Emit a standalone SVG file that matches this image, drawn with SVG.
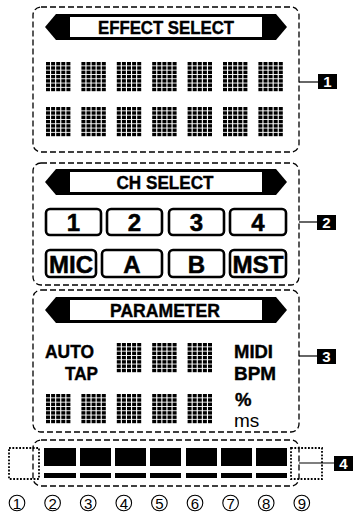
<svg xmlns="http://www.w3.org/2000/svg" xmlns:xlink="http://www.w3.org/1999/xlink" width="360" height="517" viewBox="0 0 360 517">
<style>
.panel{fill:none;stroke:#000;stroke-width:1.3;stroke-dasharray:6 3}
.dot{fill:none;stroke:#000;stroke-width:1.8;stroke-dasharray:1.8 1.6}
.ban{fill:#000}
.banin{fill:#fff}
.bt{font-family:"Liberation Sans",Arial,sans-serif;font-weight:bold;font-size:18.5px;text-anchor:middle;fill:#000;stroke:#000;stroke-width:0.4}
.btn{fill:#fff;stroke:#000;stroke-width:2.6}
.bx{font-family:"Liberation Sans",Arial,sans-serif;font-weight:bold;font-size:24px;text-anchor:middle;fill:#000;stroke:#000;stroke-width:0.5}
.lab{font-family:"Liberation Sans",Arial,sans-serif;font-weight:bold;font-size:18.5px;fill:#000;stroke:#000;stroke-width:0.4}
.lbl{fill:#000}
.lt{font-family:"Liberation Sans",Arial,sans-serif;font-weight:bold;font-size:15px;text-anchor:middle;fill:#fff}
.lead{fill:none;stroke:#000;stroke-width:1.2}
.bar{fill:#000}
.cc{fill:none;stroke:#000;stroke-width:1.1}
.cn{font-family:"Liberation Sans",Arial,sans-serif;font-size:15px;text-anchor:middle;fill:#000}
</style>
<defs>
<g id="r"><rect x="0" width="4" height="3.4"/><rect x="5.1" width="4" height="3.4"/><rect x="10.2" width="4" height="3.4"/><rect x="15.3" width="4" height="3.4"/><rect x="20.4" width="4" height="3.4"/></g>
<g id="ch"><use xlink:href="#r" y="0"/><use xlink:href="#r" y="4.3"/><use xlink:href="#r" y="8.6"/><use xlink:href="#r" y="12.9"/><use xlink:href="#r" y="17.2"/><use xlink:href="#r" y="21.5"/><use xlink:href="#r" y="25.8"/></g>
<circle id="cir" class="cc" r="7.8"/>
</defs>
<rect width="360" height="517" fill="#fff"/>

<g id="panel1">
<rect class="panel" x="33" y="7" width="266" height="145" rx="8"/>
<polygon class="ban" points="45,27 56,14 276,14 287,27 276,40 56,40"/>
<rect class="banin" x="70" y="17" width="192" height="20"/>
<text class="bt" x="166" y="34" textLength="136" lengthAdjust="spacingAndGlyphs">EFFECT SELECT</text>
<use xlink:href="#ch" x="46" y="62"/><use xlink:href="#ch" x="81.4" y="62"/><use xlink:href="#ch" x="116.8" y="62"/><use xlink:href="#ch" x="152.2" y="62"/><use xlink:href="#ch" x="187.6" y="62"/><use xlink:href="#ch" x="223" y="62"/><use xlink:href="#ch" x="258.4" y="62"/>
<use xlink:href="#ch" x="46" y="107"/><use xlink:href="#ch" x="81.4" y="107"/><use xlink:href="#ch" x="116.8" y="107"/><use xlink:href="#ch" x="152.2" y="107"/><use xlink:href="#ch" x="187.6" y="107"/><use xlink:href="#ch" x="223" y="107"/><use xlink:href="#ch" x="258.4" y="107"/>
</g>

<g id="panel2">
<rect class="panel" x="33" y="163" width="266" height="122" rx="8"/>
<polygon class="ban" points="45,182 56,169 276,169 287,182 276,195 56,195"/>
<rect class="banin" x="70" y="172" width="192" height="20"/>
<text class="bt" x="165" y="189" textLength="97" lengthAdjust="spacingAndGlyphs">CH SELECT</text>
<rect class="btn" x="46" y="209" width="55" height="26" rx="4"/>
<rect class="btn" x="107" y="209" width="55" height="26" rx="4"/>
<rect class="btn" x="169" y="209" width="55" height="26" rx="4"/>
<rect class="btn" x="230" y="209" width="56" height="26" rx="4"/>
<text class="bx" x="73.5" y="231">1</text>
<text class="bx" x="134.5" y="231">2</text>
<text class="bx" x="196.5" y="231">3</text>
<text class="bx" x="258" y="231">4</text>
<rect class="btn" x="46" y="250" width="50" height="27" rx="4"/>
<rect class="btn" x="102" y="250" width="60" height="27" rx="4"/>
<rect class="btn" x="169" y="250" width="55" height="27" rx="4"/>
<rect class="btn" x="230" y="250" width="56" height="27" rx="4"/>
<text class="bx" x="71" y="273" textLength="44" lengthAdjust="spacingAndGlyphs">MIC</text>
<text class="bx" x="132" y="273">A</text>
<text class="bx" x="196.5" y="273">B</text>
<text class="bx" x="258" y="273" textLength="51" lengthAdjust="spacingAndGlyphs">MST</text>
</g>

<g id="panel3">
<rect class="panel" x="33" y="290" width="266" height="142" rx="8"/>
<polygon class="ban" points="45,310 56,297 276,297 287,310 276,323 56,323"/>
<rect class="banin" x="70" y="300" width="192" height="20"/>
<text class="bt" x="165" y="317" textLength="110" lengthAdjust="spacingAndGlyphs">PARAMETER</text>
<text class="lab" x="45" y="358" textLength="49" lengthAdjust="spacingAndGlyphs">AUTO</text>
<text class="lab" x="65" y="380" textLength="33" lengthAdjust="spacingAndGlyphs">TAP</text>
<text class="lab" x="234" y="358" textLength="39" lengthAdjust="spacingAndGlyphs">MIDI</text>
<text class="lab" x="234" y="380" textLength="42" lengthAdjust="spacingAndGlyphs">BPM</text>
<text class="lab" x="235" y="406">%</text>
<text x="234" y="427" font-family="Liberation Sans, Arial, sans-serif" font-size="19px" fill="#000">ms</text>
<use xlink:href="#ch" x="116.8" y="343"/><use xlink:href="#ch" x="152.2" y="343"/><use xlink:href="#ch" x="187.6" y="343"/>
<use xlink:href="#ch" x="46" y="394"/><use xlink:href="#ch" x="81.4" y="394"/><use xlink:href="#ch" x="116.8" y="394"/><use xlink:href="#ch" x="152.2" y="394"/><use xlink:href="#ch" x="187.6" y="394"/>
</g>

<g id="panel4">
<rect class="dot" x="9" y="448" width="30" height="31"/>
<rect class="dot" x="291" y="448" width="31" height="31"/>
<rect class="panel" x="33" y="440" width="266" height="46" rx="8"/>
<rect class="bar" x="44" y="448" width="32" height="18"/><rect class="bar" x="80" y="448" width="31" height="18"/><rect class="bar" x="115" y="448" width="31" height="18"/><rect class="bar" x="150" y="448" width="31" height="18"/><rect class="bar" x="186" y="448" width="31" height="18"/><rect class="bar" x="221" y="448" width="31" height="18"/><rect class="bar" x="256" y="448" width="31" height="18"/>
<rect class="bar" x="44" y="473" width="32" height="5"/><rect class="bar" x="80" y="473" width="31" height="5"/><rect class="bar" x="115" y="473" width="31" height="5"/><rect class="bar" x="150" y="473" width="31" height="5"/><rect class="bar" x="186" y="473" width="31" height="5"/><rect class="bar" x="221" y="473" width="31" height="5"/><rect class="bar" x="256" y="473" width="31" height="5"/>
<use xlink:href="#cir" x="17" y="503"/><use xlink:href="#cir" x="52.6" y="503"/><use xlink:href="#cir" x="88.2" y="503"/><use xlink:href="#cir" x="123.8" y="503"/><use xlink:href="#cir" x="159.4" y="503"/><use xlink:href="#cir" x="195" y="503"/><use xlink:href="#cir" x="230.6" y="503"/><use xlink:href="#cir" x="266.2" y="503"/><use xlink:href="#cir" x="301.8" y="503"/>
<text class="cn" x="17" y="508.5">1</text><text class="cn" x="52.6" y="508.5">2</text><text class="cn" x="88.2" y="508.5">3</text><text class="cn" x="123.8" y="508.5">4</text><text class="cn" x="159.4" y="508.5">5</text><text class="cn" x="195" y="508.5">6</text><text class="cn" x="230.6" y="508.5">7</text><text class="cn" x="266.2" y="508.5">8</text><text class="cn" x="301.8" y="508.5">9</text>
</g>

<g id="connectors">
<path class="lead" d="M299,82H318"/>
<path class="lead" d="M299,222H317"/>
<path class="lead" d="M299,356H317"/>
<path class="lead" d="M299,463H334"/>
</g>

<g id="label1"><rect class="lbl" x="318" y="74" width="19" height="15"/><text class="lt" x="327.5" y="87">1</text></g>
<g id="label2"><rect class="lbl" x="317" y="215" width="19" height="15"/><text class="lt" x="326.5" y="228">2</text></g>
<g id="label3"><rect class="lbl" x="317" y="349" width="19" height="15"/><text class="lt" x="326.5" y="362">3</text></g>
<g id="label4"><rect class="lbl" x="334" y="456" width="19" height="15"/><text class="lt" x="343.5" y="469">4</text></g>
</svg>
